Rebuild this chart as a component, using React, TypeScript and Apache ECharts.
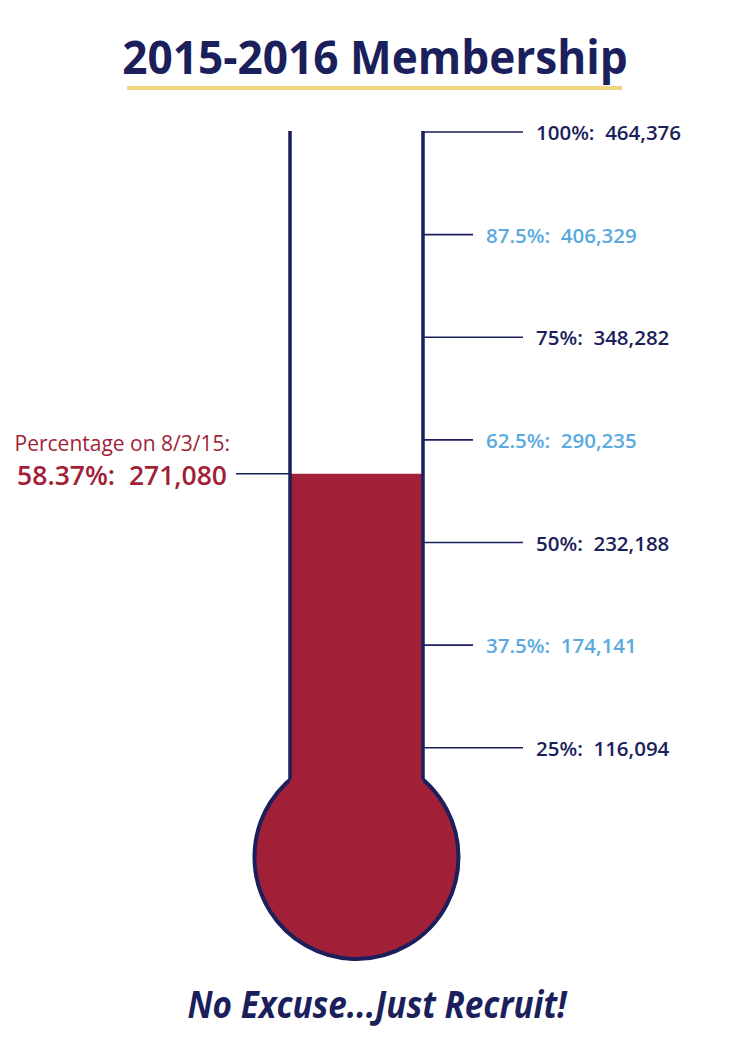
import React, { useEffect, useRef } from "react";
import * as echarts from "echarts";

const category = ["2015-2016"];
const goalValue = 464376;
const tickPercents = ["100%", "87.5%", "75%", "62.5%", "50%", "37.5%", "25%"];
const tickValues = [464376, 406329, 348282, 290235, 232188, 174141, 116094];
const tickMajor = [true, false, true, false, true, false, true];
const currentValue = 271080;
const currentPercent = "58.37%";
const currentDate = "8/3/15";

const NAVY = "#1b1f5b";
const LIGHT = "#5aaae0";
const RED = "#a11f37";
const GOLD = "#f3d583";
const FONT = "'Open Sans', 'Noto Sans', sans-serif";

const GRID_LEFT = 290;
const GRID_WIDTH = 133;
const GRID_TOP = 132;
const GRID_HEIGHT = 821;
const BULB_CX = 356.5;
const BULB_CY = 857;
const BULB_R = 102;

const fmt = (v: number) => v.toLocaleString("en-US");

export default function App() {
  const ref = useRef<HTMLDivElement>(null);
  useEffect(() => {
    if (!ref.current) return;
    const chart = echarts.init(ref.current, undefined, { renderer: "svg" });
    const tubeBottom = BULB_CY - Math.sqrt(BULB_R * BULB_R - (BULB_CX - GRID_LEFT) ** 2);
    chart.setOption({
      animation: false,
      backgroundColor: "#ffffff",
      grid: { left: GRID_LEFT, width: GRID_WIDTH, top: GRID_TOP, height: GRID_HEIGHT },
      xAxis: { type: "category", data: category, show: false },
      yAxis: { type: "value", min: 0, max: goalValue, show: false },
      graphic: [
        {
          type: "text",
          z: 1,
          x: 375,
          y: 55,
          scaleX: 0.94,
          style: {
            text: "2015-2016 Membership",
            fill: NAVY,
            fontFamily: FONT,
            fontWeight: "bold",
            fontSize: 47,
            align: "center",
            verticalAlign: "middle",
          },
        },
        { type: "rect", z: 1, shape: { x: 127, y: 86, width: 495, height: 4 }, style: { fill: GOLD } },
        {
          type: "text",
          z: 1,
          x: 377,
          y: 1003,
          scaleX: 0.9,
          style: {
            text: "No Excuse...Just Recruit!",
            fill: NAVY,
            fontFamily: FONT,
            fontWeight: "bold",
            fontStyle: "italic",
            fontSize: 37,
            align: "center",
            verticalAlign: "middle",
          },
        },
        {
          type: "circle",
          z: 2,
          shape: { cx: BULB_CX, cy: BULB_CY, r: BULB_R },
          style: { fill: RED, stroke: NAVY, lineWidth: 4 },
        },
        {
          type: "line",
          z: 10,
          shape: { x1: GRID_LEFT, y1: GRID_TOP - 1, x2: GRID_LEFT, y2: tubeBottom },
          style: { stroke: NAVY, lineWidth: 3.5 },
        },
        {
          type: "line",
          z: 10,
          shape: { x1: GRID_LEFT + GRID_WIDTH, y1: GRID_TOP - 1, x2: GRID_LEFT + GRID_WIDTH, y2: tubeBottom },
          style: { stroke: NAVY, lineWidth: 3.5 },
        },
      ],
      series: [
        {
          // mercury column: from the current value down into the bulb
          type: "custom",
          z: 5,
          data: [[0, currentValue]],
          renderItem: (params: any, api: any) => {
            const pt = api.coord([api.value(0), api.value(1)]);
            const w = api.size([1, 0])[0];
            const yBottom = tubeBottom + 12;
            return {
              type: "rect",
              shape: { x: pt[0] - w / 2, y: pt[1], width: w, height: yBottom - pt[1] },
              style: { fill: RED },
            };
          },
        },
        {
          type: "custom",
          z: 12,
          data: tickValues.map((v, i) => [0, v, i]),
          renderItem: (params: any, api: any) => {
            const i = api.value(2);
            const pt = api.coord([api.value(0), api.value(1)]);
            const half = api.size([1, 0])[0] / 2;
            const x0 = pt[0] + half;
            const major = tickMajor[i];
            const len = major ? 100 : 50;
            return {
              type: "group",
              children: [
                {
                  type: "line",
                  shape: { x1: x0, y1: pt[1], x2: x0 + len, y2: pt[1] },
                  style: { stroke: NAVY, lineWidth: 1.6 },
                },
                {
                  type: "text",
                  style: {
                    text: `${tickPercents[i]}:  ${fmt(tickValues[i])}`,
                    x: x0 + len + 13,
                    y: pt[1],
                    fill: major ? NAVY : LIGHT,
                    fontFamily: FONT,
                    fontSize: 20.5,
                    fontWeight: 600,
                    align: "left",
                    verticalAlign: "middle",
                  },
                },
              ],
            };
          },
        },
        {
          type: "custom",
          z: 12,
          data: [[0, currentValue]],
          renderItem: (params: any, api: any) => {
            const pt = api.coord([api.value(0), api.value(1)]);
            const half = api.size([1, 0])[0] / 2;
            const xl = pt[0] - half;
            return {
              type: "group",
              children: [
                {
                  type: "line",
                  shape: { x1: xl - 54, y1: pt[1], x2: xl, y2: pt[1] },
                  style: { stroke: NAVY, lineWidth: 1.6 },
                },
                {
                  type: "text",
                  style: {
                    text: `Percentage on ${currentDate}:`,
                    x: xl - 60,
                    y: pt[1] - 31,
                    fill: RED,
                    fontFamily: FONT,
                    fontSize: 21,
                    fontWeight: 500,
                    align: "right",
                    verticalAlign: "middle",
                  },
                },
                {
                  type: "text",
                  style: {
                    text: `${currentPercent}:  ${fmt(currentValue)}`,
                    x: xl - 63,
                    y: pt[1] + 1,
                    fill: RED,
                    fontFamily: FONT,
                    fontSize: 26.5,
                    fontWeight: 600,
                    align: "right",
                    verticalAlign: "middle",
                  },
                },
              ],
            };
          },
        },
      ],
    });
    return () => chart.dispose();
  }, []);
  return (
    <div
      ref={ref}
      style={{ position: "fixed", left: 0, top: 0, width: 750, height: 1050, background: "#fff" }}
    />
  );
}
